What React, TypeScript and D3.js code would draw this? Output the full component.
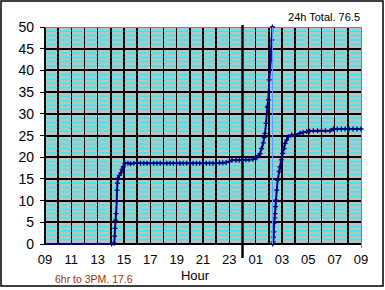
import React from "react";
import * as d3 from "d3";

// ---- data (hours counted continuously from 09:00 to 09:00 next day = 33) ----
const seg1Hours = [
  9.0, 10.0, 11.0, 12.0, 13.0, 14.06, 14.26, 14.29, 14.32, 14.36, 14.4, 14.45, 14.47, 14.5, 14.54, 14.65,
  14.77, 14.86, 14.95, 15.08, 15.3, 15.5, 15.75, 16.0, 16.25, 16.5, 16.75, 17.0, 17.25, 17.5, 17.75,
  18.0, 18.25, 18.5, 18.75, 19.0, 19.25, 19.5, 19.75, 20.0, 20.25, 20.5, 20.75, 21.0, 21.25, 21.5,
  21.75, 22.0, 22.25, 22.5, 22.75, 23.0, 23.2, 23.5, 23.75, 24.0, 24.25, 24.5, 24.8, 25.08, 25.2,
  25.33, 25.45, 25.58, 25.65, 25.71, 25.79, 25.88, 25.96, 26.03, 26.09, 26.14, 26.22, 26.27,
];
const seg1Values = [
  0, 0, 0, 0, 0, 0, 0.2, 1.8, 3.6, 5.5, 7.0, 10.0, 12.4, 14.0, 15.2, 15.8,
  16.4, 17.2, 17.8, 18.6, 18.6, 18.5, 18.6, 18.7, 18.6, 18.6, 18.6, 18.6, 18.6, 18.6, 18.6,
  18.6, 18.6, 18.6, 18.6, 18.6, 18.6, 18.6, 18.6, 18.6, 18.6, 18.6, 18.6, 18.6, 18.6, 18.6,
  18.6, 18.6, 18.7, 18.7, 18.8, 19.0, 19.3, 19.3, 19.3, 19.3, 19.4, 19.4, 19.5, 19.9, 20.3,
  20.8, 22.0, 23.3, 24.5, 25.5, 27.8, 31.6, 33.2, 37.8, 40.0, 42.4, 47.0, 50.0,
];
const seg2Hours = [
  26.3, 26.34, 26.36, 26.38, 26.41, 26.44, 26.47, 26.51, 26.54, 26.6, 26.67, 26.79, 26.85, 26.95,
  27.05, 27.15, 27.23, 27.36, 27.48, 27.74, 28.0, 28.37, 28.6, 28.88, 29.1, 29.38, 29.7, 30.0,
  30.3, 30.65, 30.9, 31.2, 31.5, 31.8, 32.1, 32.4, 32.7, 33.0,
];
const seg2Values = [
  0, 0.5, 1.6, 2.8, 4.8, 6.0, 7.0, 8.6, 10.1, 12.4, 14.7, 16.7, 17.8, 19.4,
  20.9, 22.0, 23.2, 24.0, 24.7, 25.1, 25.2, 25.5, 25.7, 25.9, 26.0, 26.1, 26.1, 26.1,
  26.1, 26.1, 26.5, 26.5, 26.5, 26.5, 26.5, 26.5, 26.5, 26.5,
];
const xTickHours = [9, 11, 13, 15, 17, 19, 21, 23, 25, 27, 29, 31, 33];
const yTicks = [0, 5, 10, 15, 20, 25, 30, 35, 40, 45, 50];
const midnightHour = 24;
const wrapHour = 26.28;
const totalLabel = "24h Total. 76.5";
const partLabel = "6hr to 3PM. 17.6";
const xTitle = "Hour";

export default function App() {
  const W = 385, H = 290;
  const L = 45, R = 361, T = 27, B = 244;
  const x = d3.scaleLinear().domain([9, 33]).range([L, R]);
  const y = d3.scaleLinear().domain([0, 50]).range([B, T]);
  const minor = d3.range(1, 50).filter((v) => v % 5 !== 0);
  const hourLines = d3.range(9, 33);
  const line = d3.line<[number, number]>().x((d) => x(d[0])).y((d) => y(d[1]));
  const s1 = seg1Hours.map((h, i) => [h, seg1Values[i]] as [number, number]);
  const s2 = seg2Hours.map((h, i) => [h, seg2Values[i]] as [number, number]);
  const navy = "#000080";
  const font = "Arial, 'Liberation Sans', sans-serif";
  const plus = (d: [number, number], k: string) => {
    const cx = x(d[0]), cy = y(d[1]);
    return (
      <path key={k} d={`M${cx - 2.5},${cy}H${cx + 2.5}M${cx},${cy - 2.5}V${cy + 2.5}`} stroke={navy} strokeWidth={1.3} />
    );
  };
  return (
    <svg width={W} height={H} style={{ position: "absolute", left: 0, top: 0 }} fontFamily={font}>
      <rect x={0} y={0} width={W} height={H} fill="#fff" />
      <rect x={1} y={1} width={382} height={285} fill="none" stroke="#000" strokeWidth={1.5} />
      <rect x={L} y={T} width={R - L} height={B - T} fill="#C0C0C0" />
      <g>
        {minor.map((v) => (
          <line key={"m" + v} x1={L} x2={R} y1={y(v)} y2={y(v)} stroke="#00FFFF" strokeWidth={1.3} />
        ))}
      </g>
      <g shapeRendering="crispEdges">
        {yTicks.slice(0, -1).map((v) => (
          <line key={"M" + v} x1={L} x2={R} y1={y(v)} y2={y(v)} stroke="#000" strokeWidth={2} />
        ))}
        {hourLines.map((h) => (
          <line key={"v" + h} x1={x(h)} x2={x(h)} y1={T} y2={B} stroke="#000" strokeWidth={1.6} />
        ))}
        <line x1={L} x2={R} y1={T} y2={T} stroke="#808080" strokeWidth={1} />
        <line x1={R} x2={R} y1={T} y2={B + 4} stroke="#808080" strokeWidth={1} />
        {yTicks.map((v) => (
          <line key={"t" + v} x1={L - 5} x2={L} y1={y(v)} y2={y(v)} stroke="#000" strokeWidth={1} />
        ))}
      </g>
      <line x1={x(midnightHour)} x2={x(midnightHour)} y1={T - 2} y2={258} stroke="#000" strokeWidth={2.5} />
      <path d={line(s1) || ""} fill="none" stroke={navy} strokeWidth={2} />
      <path d={line(s2) || ""} fill="none" stroke={navy} strokeWidth={2} />
      {s1.slice(5).map((d, i) => plus(d, "a" + i))}
      {s2.map((d, i) => plus(d, "b" + i))}
      <line x1={x(wrapHour)} x2={x(wrapHour)} y1={T} y2={B} stroke="#5C9BFF" strokeWidth={1} />
      {yTicks.map((v) => (
        <text key={"yl" + v} x={34} y={y(v)} dy="0.36em" textAnchor="end" fontSize={14} fill="#000">
          {v}
        </text>
      ))}
      {xTickHours.map((h) => (
        <text key={"xl" + h} x={x(h)} y={264} textAnchor="middle" fontSize={13} fill="#000">
          {String(h % 24).padStart(2, "0")}
        </text>
      ))}
      <text x={195} y={280} textAnchor="middle" fontSize={13} fill="#000">{xTitle}</text>
      <text x={55} y={283} fontSize={10.5} fill="#993300">{partLabel}</text>
      <text x={360} y={21} textAnchor="end" fontSize={11} fill="#000">{totalLabel}</text>
    </svg>
  );
}
